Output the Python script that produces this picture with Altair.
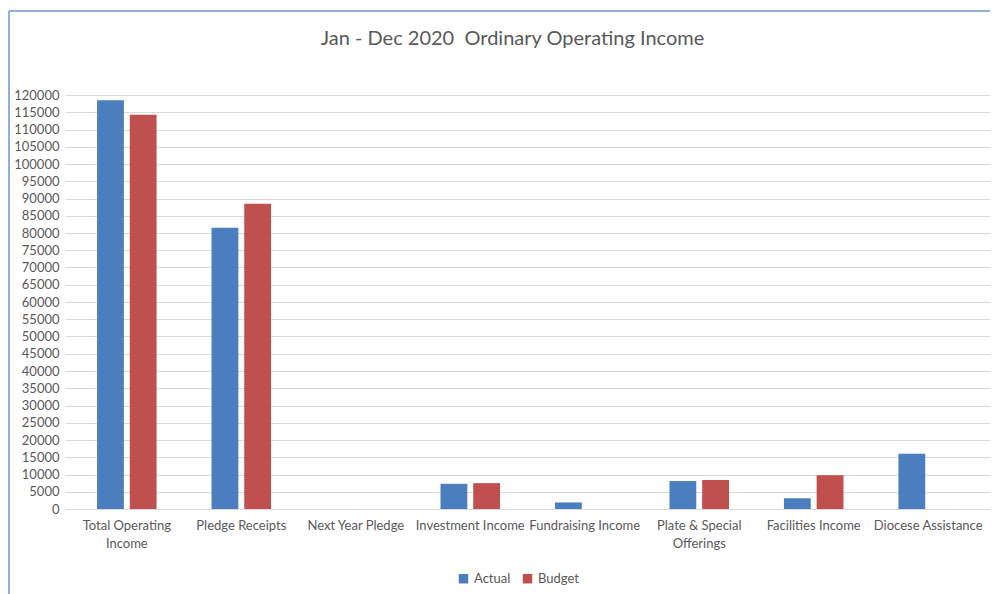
import altair as alt
import pandas as pd

categories = ["Total Operating Income", "Pledge Receipts", "Next Year Pledge",
              "Investment Income", "Fundraising Income", "Plate & Special Offerings",
              "Facilities Income", "Diocese Assistance"]
actual = [118500, 81500, 0, 7300, 1900, 8100, 3100, 16000]
budget = [114300, 88500, 0, 7500, 0, 8400, 9800, 0]
series = ["Actual", "Budget"]
colors = ["#4a7ebf", "#c0504d"]
y_ticks = list(range(0, 120001, 5000))

rows = []
for c, a, b in zip(categories, actual, budget):
    rows.append({"category": c, "series": "Actual", "value": a})
    rows.append({"category": c, "series": "Budget", "value": b})
df = pd.DataFrame(rows)

W = 925
H = 414
FONT = "Lato"
GRAY = "#595959"

label_expr = ("datum.value == 'Total Operating Income' ? ['Total Operating', 'Income'] : "
              "datum.value == 'Plate & Special Offerings' ? ['Plate & Special', 'Offerings'] : datum.value")

bars = alt.Chart(df).mark_bar().encode(
    x=alt.X("category:N", sort=categories, title=None,
            scale=alt.Scale(paddingInner=0.48, paddingOuter=0.28),
            axis=alt.Axis(labelAngle=0, labelExpr=label_expr, ticks=False,
                          domainColor="#d9d9d9", labelPadding=10, labelFontSize=13,
                          labelColor=GRAY, labelFont=FONT, labelLineHeight=18)),
    xOffset=alt.XOffset("series:N", sort=series, scale=alt.Scale(paddingInner=0.18)),
    y=alt.Y("value:Q", title=None,
            scale=alt.Scale(domain=[0, 120000], nice=False),
            axis=alt.Axis(values=y_ticks, ticks=False, domain=False, gridColor="#d9d9d9",
                          labelFontSize=13, labelColor=GRAY, labelFont=FONT,
                          labelPadding=6, format="d")),
    color=alt.Color("series:N", sort=series, title=None,
                    scale=alt.Scale(domain=series, range=colors),
                    legend=alt.Legend(orient="none", legendX=392, legendY=477,
                                      direction="horizontal",
                                      symbolType="square", symbolSize=90,
                                      labelFontSize=13, labelColor=GRAY, labelFont=FONT,
                                      columnPadding=10, symbolStrokeWidth=0)),
)

frame_df = pd.DataFrame({"k": [0]})
left_line = alt.Chart(frame_df).mark_rule(color="#8fb0d8", strokeWidth=2).encode(
    x=alt.value(-56), y=alt.value(-84), y2=alt.value(H + 86))
top_line = alt.Chart(frame_df).mark_rule(color="#8fb0d8", strokeWidth=2).encode(
    x=alt.value(-56), x2=alt.value(W), y=alt.value(-84))

chart = alt.layer(bars, left_line, top_line).properties(
    width=W, height=H,
    padding={"left": 0, "top": 2, "right": 0, "bottom": 0},
    title=alt.TitleParams("Jan - Dec 2020\u00a0 Ordinary Operating Income",
                          fontSize=20, font=FONT, color=GRAY, fontWeight="normal",
                          offset=-39, dx=-15),
).configure_view(stroke=None)

chart.save("out.html", embed_options={"renderer": "svg", "actions": False})
